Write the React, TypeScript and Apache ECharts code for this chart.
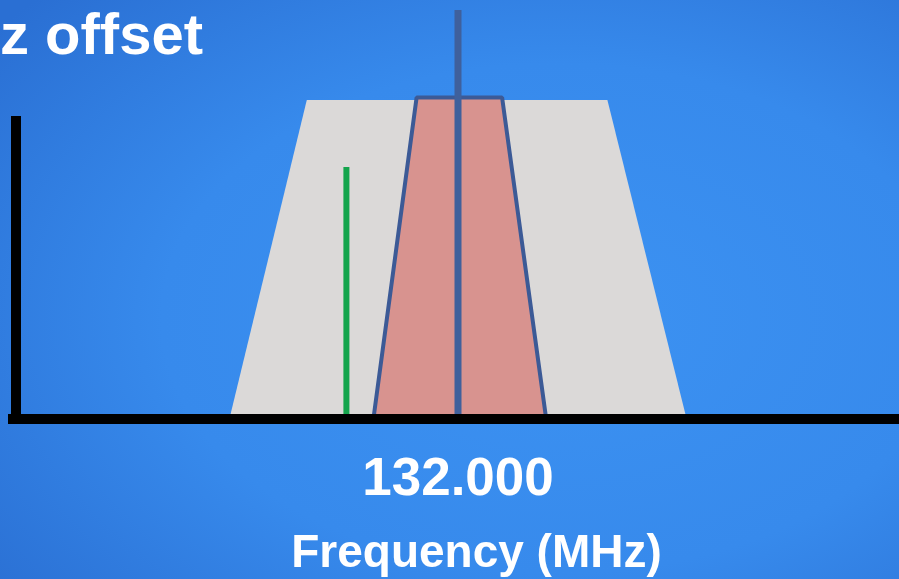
import React, { useEffect, useRef } from "react";
import * as echarts from "echarts";

// x: offset from 132.000 MHz in kHz; y: relative level
const CENTER_MHZ = 132.0;
const grayBand: [number, number][] = [[-25.4, 0], [-16.8, 105.3], [16.6, 105.3], [25.4, 0]];
const redBand: [number, number][] = [[-9.4, 0], [-4.6, 106.1], [4.9, 106.1], [9.8, 0]];
const carrierLine: [number, number][] = [[0, 0], [0, 135]];
const offsetLine: [number, number][] = [[-12.4, 0], [-12.4, 83.2]];
const tickValues = [0];
const titleText = "z offset";
const xName = "Frequency (MHz)";

export default function App() {
  const ref = useRef<HTMLDivElement>(null);
  useEffect(() => {
    document.body.style.margin = "0";
    const chart = echarts.init(ref.current!, null, { renderer: "svg" });
    const font = "'Liberation Sans', Arial, sans-serif";
    chart.setOption({
      animation: false,
      backgroundColor: "transparent",
      graphic: [
        {
          type: "rect",
          z: -10,
          silent: true,
          shape: { x: 0, y: 0, width: 899, height: 579 },
          style: {
            fill: {
              type: "radial",
              x: 0.62,
              y: 0.55,
              r: 0.8,
              colorStops: [
                { offset: 0, color: "#3c92f2" },
                { offset: 0.55, color: "#378aec" },
                { offset: 1, color: "#2a6fd3" },
              ],
            },
          },
        },
        {
          type: "text",
          x: 203,
          y: 33,
          z: 20,
          style: {
            text: titleText,
            fill: "#ffffff",
            font: `bold 58px ${font}`,
            align: "right",
            verticalAlign: "middle",
          },
        },
      ],
      grid: { left: 8, right: 0, top: 116, bottom: 157 },
      xAxis: {
        type: "value",
        min: -50,
        max: 49,
        z: 5,
        axisLine: { show: true, onZero: false, lineStyle: { color: "#000000", width: 10, cap: "butt" } },
        axisTick: { show: false },
        splitLine: { show: false },
        axisLabel: {
          show: true,
          customValues: tickValues,
          formatter: (v: number) => (v === 0 ? (CENTER_MHZ + v / 1000).toFixed(3) : ""),
          color: "#ffffff",
          fontSize: 53,
          fontWeight: "bold",
          fontFamily: font,
          margin: 31,
        },
        name: xName,
        nameLocation: "middle",
        nameGap: 109,
        nameTextStyle: {
          color: "#ffffff",
          fontSize: 46,
          fontWeight: "bold",
          fontFamily: font,
          padding: [0, 0, 0, 46],
        },
      },
      yAxis: {
        type: "value",
        min: 0,
        max: 100,
        offset: -8,
        z: 5,
        axisLine: { show: true, onZero: false, lineStyle: { color: "#000000", width: 10, cap: "butt" } },
        axisTick: { show: false },
        axisLabel: { show: false },
        splitLine: { show: false },
      },
      series: [
        {
          type: "line",
          data: grayBand,
          clip: false,
          symbol: "none",
          z: 2,
          lineStyle: { width: 0, color: "#dbd9d8" },
          areaStyle: { color: "#dbd9d8", opacity: 1 },
        },
        {
          type: "line",
          data: redBand,
          clip: false,
          symbol: "none",
          z: 3,
          lineStyle: { width: 4, color: "#3c5a96" },
          areaStyle: { color: "#d8938f", opacity: 1 },
        },
        {
          type: "line",
          data: offsetLine,
          clip: false,
          symbol: "none",
          z: 4,
          lineStyle: { width: 6, color: "#14a44c" },
        },
        {
          type: "line",
          data: carrierLine,
          clip: false,
          symbol: "none",
          z: 4,
          lineStyle: { width: 7, color: "#3f609c" },
        },
      ],
    });
    return () => chart.dispose();
  }, []);
  return <div ref={ref} style={{ width: 899, height: 579, position: "fixed", left: 0, top: 0 }} />;
}
